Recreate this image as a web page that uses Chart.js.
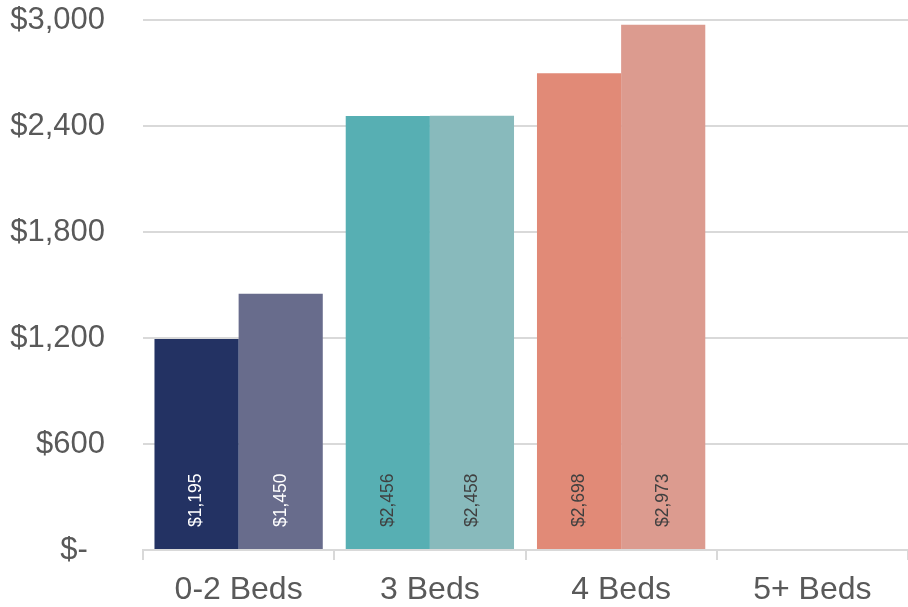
<!DOCTYPE html>
<html>
<head>
<meta charset="utf-8">
<script src="https://cdn.jsdelivr.net/npm/chart.js@4/dist/chart.umd.min.js"></script>
<style>
  html, body { margin: 0; padding: 0; background: #ffffff; }
  #wrap { width: 908px; height: 607px; position: relative; }
</style>
</head>
<body>
<div id="wrap"><canvas id="c"></canvas></div>
<script>
const categories = ['0-2 Beds', '3 Beds', '4 Beds', '5+ Beds'];
const seriesA = [1195, 2456, 2698, null];
const seriesB = [1450, 2458, 2973, null];
const yTicks = [0, 600, 1200, 1800, 2400, 3000];

const colorsA = ['#233263', '#57AFB3', '#E18A77', '#E18A77'];
const colorsB = ['#686C8C', '#88BABC', '#DC9B8F', '#DC9B8F'];
const labelColors = ['#ffffff', '#404040', '#404040', '#404040'];

const FONT = "'Liberation Sans', Arial, sans-serif";

const barLabels = {
  id: 'barLabels',
  afterDatasetsDraw(chart) {
    const ctx = chart.ctx;
    chart.data.datasets.forEach((ds, di) => {
      const meta = chart.getDatasetMeta(di);
      meta.data.forEach((el, i) => {
        const v = ds.data[i];
        if (v === null || v === undefined) return;
        ctx.save();
        ctx.translate(el.x, el.base - 22);
        ctx.rotate(-Math.PI / 2);
        ctx.font = '17.5px ' + FONT;
        ctx.fillStyle = labelColors[i];
        ctx.textAlign = 'left';
        ctx.textBaseline = 'middle';
        ctx.fillText('$' + v.toLocaleString('en-US'), 0, 0);
        ctx.restore();
      });
    });
  }
};

new Chart(document.getElementById('c'), {
  type: 'bar',
  data: {
    labels: categories,
    datasets: [
      { data: seriesA, backgroundColor: colorsA, borderWidth: 0 },
      { data: seriesB, backgroundColor: colorsB, borderWidth: 0 }
    ]
  },
  options: {
    responsive: true,
    maintainAspectRatio: false,
    animation: false,
    devicePixelRatio: 1,
    layout: { padding: { left: 0, top: 20, right: 0, bottom: 0 } },
    plugins: { legend: { display: false }, tooltip: { enabled: false } },
    datasets: { bar: { categoryPercentage: 0.88, barPercentage: 1.0 } },
    scales: {
      x: {
        afterFit(scale) { scale.height = 57; },
        grid: { display: true, drawOnChartArea: false, drawTicks: true, tickLength: 10, color: '#d9d9d9', lineWidth: 2, offset: true },
        border: { display: true, color: '#d9d9d9', width: 2 },
        ticks: { color: '#595959', font: { family: FONT, size: 32 }, padding: 11 }
      },
      y: {
        min: 0, max: 3000,
        afterBuildTicks(scale) { scale.ticks = yTicks.map(v => ({ value: v })); },
        afterFit(scale) { scale.width = 143; },
        grid: { color: '#d9d9d9', lineWidth: 2, drawTicks: true, tickLength: 38, tickColor: 'rgba(0,0,0,0)' },
        border: { display: false },
        ticks: {
          color: '#595959', font: { family: FONT, size: 31 }, padding: 0,
          callback: (v) => v === 0 ? '$-  ' : '$' + Number(v).toLocaleString('en-US')
        }
      }
    }
  },
  plugins: [barLabels]
});
</script>
</body>
</html>
